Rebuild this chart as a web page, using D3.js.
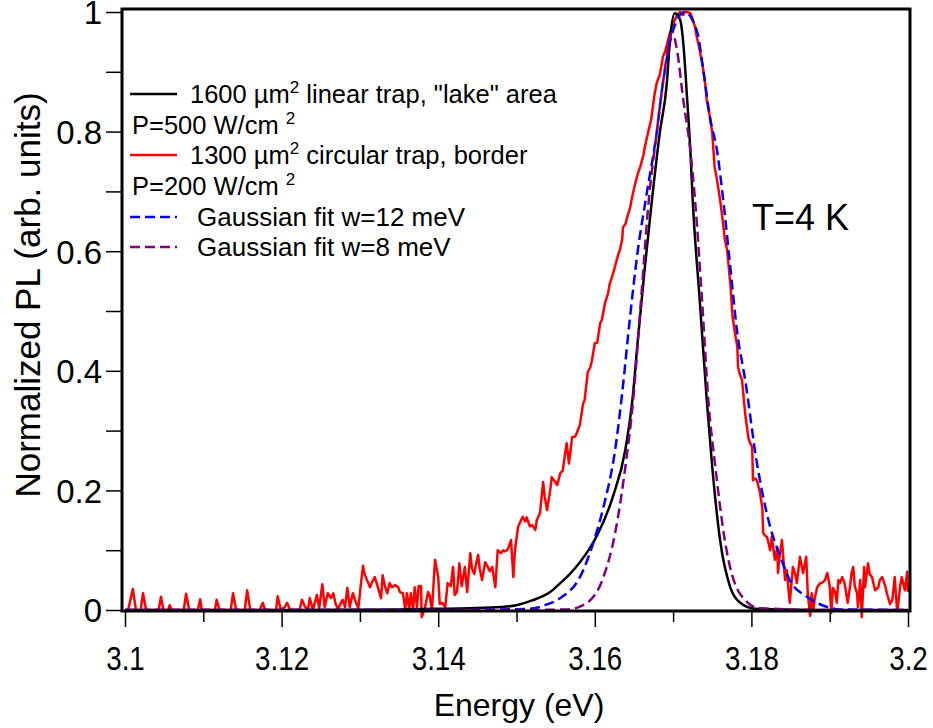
<!DOCTYPE html>
<html>
<head>
<meta charset="utf-8">
<script src="https://cdn.jsdelivr.net/npm/d3@7"></script>
<style>
  body { margin: 0; background: #fff; }
  text { font-family: "Liberation Sans", Arial, sans-serif; fill: #000; }
</style>
</head>
<body>
<div id="chart"></div>
<script>
// Tick values and labels
let xMajor = [3.1, 3.12, 3.14, 3.16, 3.18, 3.2];
let xLabels = ['3.1', '3.12', '3.14', '3.16', '3.18', '3.2'];
let xMinor = [3.11, 3.13, 3.15, 3.17, 3.19];
let yMajor = [0, 0.2, 0.4, 0.6, 0.8, 1];
let yLabels = ['0', '0.2', '0.4', '0.6', '0.8', '1'];
let yMinor = [0.1, 0.3, 0.5, 0.7, 0.9];

// Black: 1600 um2 linear trap, "lake" area
let blackE = [3.100, 3.120, 3.135, 3.140, 3.144, 3.148, 3.150, 3.152, 3.1543, 3.1556, 3.1568, 3.1581,
    3.1592, 3.1603, 3.1623, 3.1639, 3.1648, 3.1655, 3.1664, 3.1673, 3.1683, 3.1692, 3.1696, 3.1702,
    3.1709, 3.1713, 3.1718, 3.1722, 3.1725, 3.1734, 3.1743, 3.1750, 3.1760, 3.1773, 3.1785, 3.1805,
    3.190, 3.200];
let blackPL = [0, 0, 0.001, 0.002, 0.003, 0.005, 0.008, 0.016, 0.030, 0.045, 0.060, 0.080,
    0.100, 0.125, 0.189, 0.268, 0.351, 0.452, 0.574, 0.686, 0.798, 0.881, 0.953, 0.998,
    0.987, 0.948, 0.853, 0.769, 0.686, 0.518, 0.351, 0.239, 0.117, 0.038, 0.013, 0.002,
    0, 0];

// Blue: Gaussian fit w=12 meV
let blueE = [3.100, 3.140, 3.1517, 3.1536, 3.1556, 3.1581, 3.1598, 3.1611, 3.1626, 3.1635, 3.1645,
    3.1655, 3.1665, 3.1679, 3.1687, 3.1699, 3.1715, 3.1731, 3.1738, 3.1747, 3.1756, 3.1764, 3.1773,
    3.1782, 3.1792, 3.1807, 3.1824, 3.1837, 3.1849, 3.1871, 3.1897, 3.1913, 3.200];
let bluePL = [0, 0, 0.002, 0.008, 0.020, 0.055, 0.112, 0.172, 0.268, 0.363, 0.490,
    0.602, 0.686, 0.798, 0.881, 0.965, 1.0, 0.965, 0.908, 0.824, 0.769, 0.686, 0.574,
    0.463, 0.385, 0.246, 0.139, 0.089, 0.050, 0.022, 0.005, 0.001, 0];

// Purple: Gaussian fit w=8 meV
let purpleE = [3.100, 3.150, 3.1565, 3.1590, 3.1611, 3.1626, 3.1639, 3.1649, 3.1659, 3.1669, 3.1679,
    3.1687, 3.1699, 3.1705, 3.1713, 3.1722, 3.1728, 3.1737, 3.1745, 3.1754, 3.1766, 3.1785, 3.1811,
    3.190, 3.200];
let purplePL = [0, 0, 0.001, 0.012, 0.055, 0.129, 0.239, 0.351, 0.518, 0.686, 0.798,
    0.881, 0.965, 0.936, 0.853, 0.769, 0.686, 0.518, 0.351, 0.239, 0.117, 0.028, 0.003,
    0, 0];

// Red: 1300 um2 circular trap, border (measured, noisy)
let redE = [3.1000, 3.1004, 3.1010, 3.1014, 3.1020, 3.1023, 3.1027, 3.1043, 3.1046, 3.1049,
    3.1055, 3.1057, 3.1060, 3.1075, 3.1078, 3.1082, 3.1093, 3.1096, 3.1098, 3.1115,
    3.1117, 3.1121, 3.1135, 3.1138, 3.1142, 3.1153, 3.1156, 3.1160, 3.1172, 3.1176,
    3.1179, 3.1193, 3.1195, 3.1199, 3.1204, 3.1207, 3.1211, 3.1223, 3.1226, 3.1230,
    3.1234, 3.1236, 3.1240, 3.1245, 3.1248, 3.1252, 3.1255, 3.1259, 3.1263, 3.1266,
    3.1269, 3.1272, 3.1276, 3.1278, 3.1281, 3.1284, 3.1287, 3.1291, 3.1295, 3.1298,
    3.1301, 3.1304, 3.1306, 3.1309, 3.1313, 3.1315, 3.1319, 3.1323, 3.1327, 3.1329,
    3.1332, 3.1335, 3.1338, 3.1341, 3.1345, 3.1349, 3.1351, 3.1355, 3.1358, 3.1360,
    3.1363, 3.1365, 3.1368, 3.1370, 3.1373, 3.1375, 3.1378, 3.1379, 3.1383, 3.1387,
    3.1389, 3.1392, 3.1396, 3.1400, 3.1402, 3.1405, 3.1409, 3.1412, 3.1416, 3.1419,
    3.1421, 3.1424, 3.1427, 3.1430, 3.1434, 3.1437, 3.1441, 3.1443, 3.1446, 3.1448,
    3.1451, 3.1453, 3.1456, 3.1460, 3.1462, 3.1466, 3.1469, 3.1473, 3.1476, 3.1480,
    3.1483, 3.1485, 3.1488, 3.1490, 3.1493, 3.1496, 3.1498, 3.1502, 3.1504, 3.1508,
    3.1511, 3.1513, 3.1517, 3.1520, 3.1524, 3.1526, 3.1530, 3.1534, 3.1536, 3.1539,
    3.1543, 3.1545, 3.1549, 3.1552, 3.1556, 3.1559, 3.1564, 3.1567, 3.1571, 3.1575,
    3.1577, 3.1581, 3.1585, 3.1587, 3.1591, 3.1594, 3.1596, 3.1600, 3.1603, 3.1607,
    3.1609, 3.1613, 3.1617, 3.1619, 3.1622, 3.1626, 3.1630, 3.1632, 3.1635, 3.1636,
    3.1639, 3.1642, 3.1645, 3.1647, 3.1651, 3.1655, 3.1658, 3.1662, 3.1664, 3.1668,
    3.1672, 3.1676, 3.1679, 3.1683, 3.1687, 3.1690, 3.1693, 3.1696, 3.1700, 3.1705,
    3.1709, 3.1713, 3.1715, 3.1718, 3.1722, 3.1724, 3.1728, 3.1730, 3.1734, 3.1738,
    3.1741, 3.1743, 3.1747, 3.1750, 3.1753, 3.1756, 3.1760, 3.1764, 3.1766, 3.1769,
    3.1773, 3.1776, 3.1779, 3.1782, 3.1783, 3.1785, 3.1788, 3.1792, 3.1796, 3.1798,
    3.1801, 3.1802, 3.1805, 3.1807, 3.1811, 3.1814, 3.1815, 3.1817, 3.1820, 3.1824,
    3.1826, 3.1830, 3.1833, 3.1834, 3.1836, 3.1839, 3.1843, 3.1845, 3.1849, 3.1853,
    3.1856, 3.1858, 3.1862, 3.1866, 3.1870, 3.1872, 3.1875, 3.1877, 3.1879, 3.1881,
    3.1884, 3.1888, 3.1890, 3.1894, 3.1897, 3.1900, 3.1902, 3.1904, 3.1907, 3.1909,
    3.1911, 3.1913, 3.1916, 3.1919, 3.1923, 3.1926, 3.1928, 3.1930, 3.1932, 3.1935,
    3.1936, 3.1939, 3.1941, 3.1944, 3.1945, 3.1949, 3.1951, 3.1954, 3.1958, 3.1962,
    3.1964, 3.1967, 3.1971, 3.1973, 3.1977, 3.1980, 3.1983, 3.1986, 3.1987, 3.1990,
    3.1992, 3.1996, 3.1999, 3.2000];
let redPL = [0, 0, 0.035, 0, 0, 0.028, 0, 0, 0.022, 0,
    0, 0.008, 0, 0, 0.027, 0, 0, 0.018, 0, 0,
    0.017, 0, 0, 0.028, 0, 0, 0.033, 0, 0, 0.012,
    0, 0, 0.023, 0, 0.005, 0.012, 0, 0, 0.017, 0.005,
    0.002, 0.020, 0, 0.025, 0.003, 0.043, 0.005, 0.028, 0.020, 0.028,
    0.010, 0.002, 0.012, 0.017, 0.005, 0.037, 0.005, 0.028, 0.012, 0.003,
    0.040, 0.074, 0.060, 0.050, 0.038, 0.045, 0.055, 0.038, 0.020, 0.058,
    0.040, 0.028, 0.045, 0.038, 0.042, 0.038, 0.030, 0.028, 0, 0.028,
    0.002, 0.028, 0, 0.038, 0.005, 0.040, 0.040, -0.012, 0.003, 0.030,
    0.025, 0, 0.084, 0.055, 0.010, 0.012, 0.005, 0.045, 0.040, 0.072,
    0.025, 0.030, 0.078, 0.040, 0.072, 0.030, 0.095, 0.070, 0.060, 0.075,
    0.092, 0.070, 0.050, 0.080, 0.075, 0.065, 0.072, 0.038, 0.100, 0.095,
    0.100, 0.098, 0.100, 0.105, 0.117, 0.055, 0.100, 0.139, 0.145, 0.156,
    0.148, 0.155, 0.140, 0.142, 0.134, 0.150, 0.162, 0.214, 0.190, 0.167,
    0.200, 0.222, 0.215, 0.209, 0.229, 0.233, 0.279, 0.245, 0.289, 0.290,
    0.296, 0.310, 0.345, 0.351, 0.398, 0.405, 0.415, 0.446, 0.447, 0.480,
    0.485, 0.513, 0.530, 0.545, 0.557, 0.575, 0.595, 0.602, 0.620, 0.640,
    0.645, 0.660, 0.672, 0.686, 0.710, 0.730, 0.741, 0.760, 0.775, 0.798,
    0.820, 0.860, 0.881, 0.895, 0.925, 0.935, 0.950, 0.965, 0.980, 0.995,
    1.000, 0.995, 1.000, 1.000, 0.998, 0.992, 0.975, 0.960, 0.936, 0.908,
    0.880, 0.853, 0.825, 0.798, 0.741, 0.720, 0.686, 0.645, 0.620, 0.602,
    0.547, 0.490, 0.463, 0.440, 0.406, 0.395, 0.385, 0.329, 0.289, 0.280,
    0.273, 0.217, 0.220, 0.217, 0.196, 0.170, 0.129, 0.125, 0.122, 0.100,
    0.122, 0.084, 0.105, 0.062, 0.090, 0.117, 0.050, 0.067, 0.012, 0.072,
    0.060, 0.045, 0.089, 0.062, 0.089, 0.028, -0.010, 0.028, 0, 0.020,
    0.038, 0.045, 0.045, 0.050, 0.062, 0.040, -0.005, 0.037, 0.030, 0.012,
    0.050, 0.045, 0.055, 0.045, 0.012, 0.040, 0.062, 0.072, 0.040, 0.028,
    0.005, 0.050, -0.012, 0.072, 0.038, 0.078, 0.060, 0.055, 0.033, 0.038,
    0.050, 0.055, 0.040, 0.028, 0.010, 0.017, 0.055, 0, 0.005, 0.040,
    0.055, 0.033, 0.064, 0.030];

let width = 933, height = 728;

// Scales
let x = d3.scaleLinear().domain([3.1, 3.2]).range([125, 908]);
let y = d3.scaleLinear().domain([0, 1]).range([610, 12]);

let svg = d3.select('#chart')
    .append('svg')
    .attr('width', width)
    .attr('height', height);

function pairs(es, vs) {
    return es.map(function (e, i) { return [e, vs[i]]; });
}

let line = d3.line()
    .x(function (d) { return x(d[0]); })
    .y(function (d) { return y(d[1]); });

let smooth = d3.line()
    .curve(d3.curveMonotoneX)
    .x(function (d) { return x(d[0]); })
    .y(function (d) { return y(d[1]); });

// Data lines
svg.append('path')
    .datum(pairs(redE, redPL))
    .attr('fill', 'none')
    .attr('stroke', '#ff0000')
    .attr('stroke-width', 2.5)
    .attr('stroke-linejoin', 'round')
    .attr('d', line);

svg.append('path')
    .datum(pairs(blackE, blackPL))
    .attr('fill', 'none')
    .attr('stroke', '#000')
    .attr('stroke-width', 2.5)
    .attr('d', smooth);

svg.append('path')
    .datum(pairs(blueE, bluePL))
    .attr('fill', 'none')
    .attr('stroke', '#0000ff')
    .attr('stroke-width', 2.5)
    .attr('stroke-dasharray', '10,5')
    .attr('d', smooth);

svg.append('path')
    .datum(pairs(purpleE, purplePL))
    .attr('fill', 'none')
    .attr('stroke', '#800080')
    .attr('stroke-width', 2.5)
    .attr('stroke-dasharray', '10,5')
    .attr('d', smooth);

// Axes
svg.append('g')
    .attr('class', 'x-axis')
    .attr('transform', 'translate(0,' + (y(0) + 1) + ')')
    .call(d3.axisBottom(x).tickValues(xMajor).tickSize(16).tickPadding(20)
        .tickFormat(function (d, i) { return xLabels[i]; }));
svg.append('g')
    .attr('transform', 'translate(0,' + (y(0) + 1) + ')')
    .call(d3.axisBottom(x).tickValues(xMinor).tickSize(11).tickFormat(''));

svg.append('g')
    .attr('class', 'y-axis')
    .attr('transform', 'translate(' + (x(3.1) - 3) + ',0)')
    .call(d3.axisLeft(y).tickValues(yMajor).tickSize(16).tickPadding(4)
        .tickFormat(function (d, i) { return yLabels[i]; }));
svg.append('g')
    .attr('transform', 'translate(' + (x(3.1) - 3) + ',0)')
    .call(d3.axisLeft(y).tickValues(yMinor).tickSize(16).tickFormat(''));

svg.selectAll('.domain').remove();
svg.selectAll('.tick line').attr('stroke', '#000').attr('stroke-width', 1.5);
svg.selectAll('.y-axis .tick text').style('font-size', '33px').attr('dy', '0.36em');
// x tick labels are set in a narrower face in the reference
svg.selectAll('.x-axis .tick text').style('font-size', '33px')
    .attr('transform', function () {
        return 'translate(0,' + d3.select(this).attr('y') + ') scale(0.84,1) translate(0,' + (-d3.select(this).attr('y')) + ')';
    });

// Frame
svg.append('rect')
    .attr('x', x(3.1) - 3)
    .attr('y', y(1) - 3)
    .attr('width', x(3.2) - x(3.1) + 5)
    .attr('height', y(0) - y(1) + 4)
    .attr('fill', 'none')
    .attr('stroke', '#000')
    .attr('stroke-width', 3);

// Axis titles
svg.append('text')
    .attr('x', 519)
    .attr('y', 716)
    .attr('text-anchor', 'middle')
    .style('font-size', '32px')
    .text('Energy (eV)');

svg.append('text')
    .attr('transform', 'translate(40,295) rotate(-90)')
    .attr('text-anchor', 'middle')
    .style('font-size', '35px')
    .text('Normalized PL (arb. units)');

// Annotation
svg.append('text')
    .attr('x', 752)
    .attr('y', 230)
    .style('font-size', '36px')
    .text('T=4 K');

// Legend
let legend = svg.append('g').style('font-size', '25.5px');

function legendLine(yy, color, dashed) {
    legend.append('line')
        .attr('x1', 130).attr('x2', 177)
        .attr('y1', yy).attr('y2', yy)
        .attr('stroke', color)
        .attr('stroke-width', 2.5)
        .attr('stroke-dasharray', dashed ? '10,5' : null);
}

legendLine(94, '#000', false);
let t1 = legend.append('text').attr('x', 190).attr('y', 103);
t1.append('tspan').text('1600 \u00b5m');
t1.append('tspan').attr('dy', -10).style('font-size', '17px').text('2');
t1.append('tspan').attr('dy', 10).text(' linear trap, "lake" area');

let t2 = legend.append('text').attr('x', 132).attr('y', 134);
t2.append('tspan').text('P=500 W/cm ');
t2.append('tspan').attr('dy', -10).style('font-size', '17px').text('2');

legendLine(155, '#ff0000', false);
let t3 = legend.append('text').attr('x', 190).attr('y', 164);
t3.append('tspan').text('1300 \u00b5m');
t3.append('tspan').attr('dy', -10).style('font-size', '17px').text('2');
t3.append('tspan').attr('dy', 10).text(' circular trap, border');

let t4 = legend.append('text').attr('x', 132).attr('y', 195);
t4.append('tspan').text('P=200 W/cm ');
t4.append('tspan').attr('dy', -10).style('font-size', '17px').text('2');

legendLine(217, '#0000ff', true);
legend.append('text').attr('x', 197).attr('y', 226).style('font-size', '26px')
    .text('Gaussian fit w=12 meV');

legendLine(247, '#800080', true);
legend.append('text').attr('x', 197).attr('y', 256).style('font-size', '26px')
    .text('Gaussian fit w=8 meV');
</script>
</body>
</html>
